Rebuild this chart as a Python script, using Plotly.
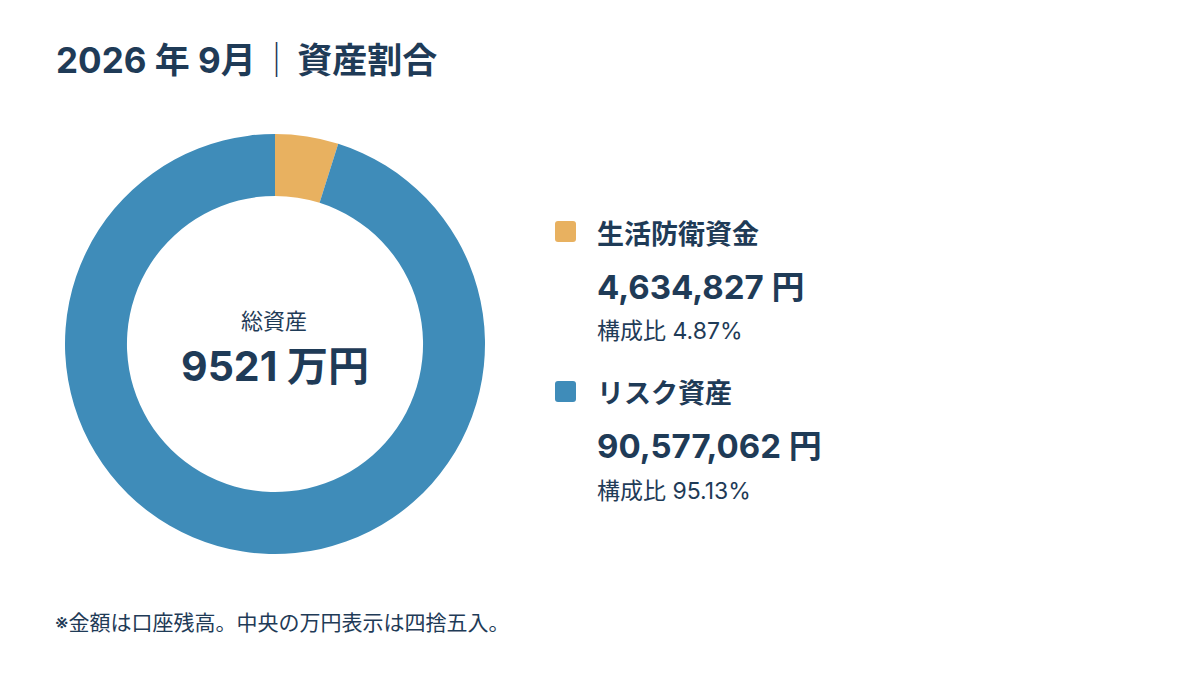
import plotly.graph_objects as go

categories = ["生活防衛資金", "リスク資産"]
values = [4634827, 90577062]
colors = ["#E8B160", "#3F8CB9"]
title_text = "2026 年 9月"
title_sub = "資産割合"
center_label = "総資産"
footnote = "※金額は口座残高。中央の万円表示は四捨五入。"

W, H = 1200, 700
OFF = 8  # page body margin
NAVY = "#1F3B57"
FONT = "Inter, 'Noto Sans CJK JP', sans-serif"

total = sum(values)
pcts = [v / total * 100 for v in values]

def px(x):
    return (x - OFF) / W

def py(y):
    return 1 - (y - OFF) / H

def rounded_rect(x0, y0, x1, y1, r):
    # pixel coords (top-left origin) -> paper path
    pts = [
        f"M {px(x0 + r)},{py(y0)}",
        f"L {px(x1 - r)},{py(y0)}",
        f"Q {px(x1)},{py(y0)} {px(x1)},{py(y0 + r)}",
        f"L {px(x1)},{py(y1 - r)}",
        f"Q {px(x1)},{py(y1)} {px(x1 - r)},{py(y1)}",
        f"L {px(x0 + r)},{py(y1)}",
        f"Q {px(x0)},{py(y1)} {px(x0)},{py(y1 - r)}",
        f"L {px(x0)},{py(y0 + r)}",
        f"Q {px(x0)},{py(y0)} {px(x0 + r)},{py(y0)}",
        "Z",
    ]
    return " ".join(pts)

fig = go.Figure()
fig.add_trace(go.Pie(
    labels=categories, values=values, hole=0.705, sort=False,
    direction="clockwise", rotation=0,
    marker=dict(colors=colors, line=dict(width=0)),
    textinfo="none", hoverinfo="skip", showlegend=False,
    domain=dict(x=[px(65), px(485)], y=[py(554), py(134)]),
))

ann = []
ann.append(dict(x=px(54), y=py(60), xanchor="left", yanchor="middle",
                text=f"<b>{title_text}</b>&#8202;<span style='color:#1F3B57'>｜</span>&#8202;<b>{title_sub}</b>",
                font=dict(size=35, color=NAVY, family=FONT), showarrow=False))
ann.append(dict(x=px(274), y=py(321), xanchor="center", yanchor="middle",
                text=center_label, font=dict(size=22, color=NAVY, family=FONT), showarrow=False))
ann.append(dict(x=px(275), y=py(366), xanchor="center", yanchor="middle",
                text=f"<b>{round(total / 10000)} 万円</b>",
                font=dict(size=41, color=NAVY, family=FONT), showarrow=False))

shapes = []
rows = [(221, 234, 287, 331), (381, 394, 446, 491)]
for i, (sq, ly, vy, ry) in enumerate(rows):
    shapes.append(dict(type="path", xref="paper", yref="paper",
                       path=rounded_rect(555, sq, 576, sq + 21, 3),
                       fillcolor=colors[i], line=dict(width=0)))
    ann.append(dict(x=px(595), y=py(ly), xanchor="left", yanchor="middle",
                    text=f"<b>{categories[i]}</b>",
                    font=dict(size=27, color=NAVY, family=FONT), showarrow=False))
    ann.append(dict(x=px(595), y=py(vy), xanchor="left", yanchor="middle",
                    text=f"<b>{values[i]:,} 円</b>",
                    font=dict(size=33, color=NAVY, family=FONT), showarrow=False))
    ann.append(dict(x=px(595), y=py(ry), xanchor="left", yanchor="middle",
                    text=f"構成比 {pcts[i]:.2f}%",
                    font=dict(size=23, color=NAVY, family=FONT), showarrow=False))

ann.append(dict(x=px(53), y=py(622), xanchor="left", yanchor="middle",
                text=footnote, font=dict(size=21, color=NAVY, family=FONT), showarrow=False))

fig.update_layout(
    width=W, height=H, margin=dict(l=0, r=0, t=0, b=0),
    paper_bgcolor="white", plot_bgcolor="white",
    annotations=ann, shapes=shapes, showlegend=False,
)
fig.write_html("out.html")
